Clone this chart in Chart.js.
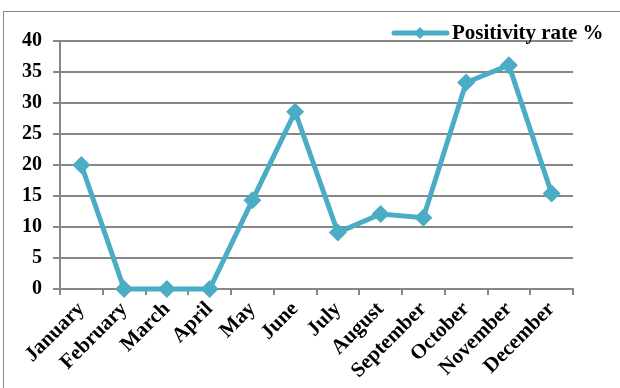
<!DOCTYPE html>
<html lang="en">
<head>
    <meta charset="UTF-8">
    <title>Positivity rate %</title>
    <script src="https://cdn.jsdelivr.net/npm/chart.js"></script>
    <style>
        body {
            margin: 0;
            background-color: #ffffff;
        }
        #wrap {
            width: 620px;
            height: 388px;
            position: relative;
        }
    </style>
</head>
<body>
    <div id="wrap">
        <canvas id="rateChart"></canvas>
    </div>

    <script>
        // data
        const months = ['January', 'February', 'March', 'April', 'May', 'June',
                        'July', 'August', 'September', 'October', 'November', 'December'];
        const positivity = [20, 0, 0, 0, 14.3, 28.6, 9.1, 12.1, 11.5, 33.3, 36.1, 15.4];
        const seriesName = 'Positivity rate %';
        const yMin = 0;
        const yMax = 40;
        const yStep = 5;

        const lineColor = '#4bacc6';
        const gridColor = '#878787';
        const fontFamily = "'Liberation Serif', 'Times New Roman', serif";

        // outer frame + hand drawn legend (line with diamond in the middle)
        const framePlugin = {
            id: 'frame',
            beforeDraw(chart) {
                const c = chart.ctx;
                c.save();
                c.strokeStyle = gridColor;
                c.lineWidth = 1;
                c.strokeRect(3.5, 11.5, 700, 500);
                c.restore();
            },
            afterDraw(chart) {
                const c = chart.ctx;
                const y = 33;
                c.save();
                c.strokeStyle = lineColor;
                c.lineWidth = 5;
                c.lineCap = 'round';
                c.beginPath();
                c.moveTo(394, y);
                c.lineTo(447, y);
                c.stroke();
                c.fillStyle = lineColor;
                c.beginPath();
                c.moveTo(420, y - 6);
                c.lineTo(426, y);
                c.lineTo(420, y + 6);
                c.lineTo(414, y);
                c.closePath();
                c.fill();
                c.fillStyle = '#000';
                c.font = 'bold 21px ' + fontFamily;
                c.textBaseline = 'middle';
                c.textAlign = 'left';
                c.fillText(chart.data.datasets[0].label, 452, y + 1);
                c.restore();
            }
        };

        new Chart(document.getElementById('rateChart').getContext('2d'), {
            type: 'line',
            data: {
                labels: months,
                datasets: [{
                    label: seriesName,
                    data: positivity,
                    borderColor: lineColor,
                    backgroundColor: lineColor,
                    borderWidth: 5,
                    tension: 0,
                    clip: false,
                    pointStyle: 'rectRot',
                    pointRadius: 9,
                    pointHoverRadius: 9,
                    pointBorderWidth: 0
                }]
            },
            options: {
                responsive: true,
                maintainAspectRatio: false,
                animation: false,
                layout: {
                    padding: { top: 41, right: 47, left: 0, bottom: 0 }
                },
                plugins: {
                    legend: { display: false },
                    tooltip: { enabled: false }
                },
                scales: {
                    x: {
                        offset: true,
                        afterFit(scale) { scale.height = 99; },
                        grid: {
                            offset: true,
                            drawOnChartArea: false,
                            drawTicks: true,
                            tickLength: 6,
                            color: gridColor,
                            lineWidth: 2
                        },
                        border: { color: gridColor, width: 2 },
                        ticks: {
                            autoSkip: false,
                            minRotation: 45,
                            maxRotation: 45,
                            padding: 2,
                            color: '#000',
                            font: { family: fontFamily, size: 21, weight: 'bold' }
                        }
                    },
                    y: {
                        min: yMin,
                        max: yMax,
                        afterFit(scale) { scale.width = 60; },
                        grid: {
                            color: gridColor,
                            lineWidth: 2,
                            drawTicks: true,
                            tickLength: 7
                        },
                        border: { color: gridColor, width: 2 },
                        ticks: {
                            stepSize: yStep,
                            padding: 11,
                            color: '#000',
                            font: { family: fontFamily, size: 20, weight: 'bold' }
                        }
                    }
                }
            },
            plugins: [framePlugin]
        });
    </script>
</body>
</html>
